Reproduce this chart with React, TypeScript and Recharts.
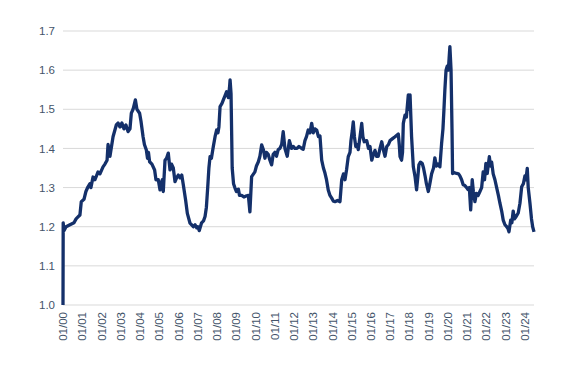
import React from "react";
import { LineChart, Line, XAxis, YAxis, CartesianGrid } from "recharts";

// years since 01/2000 (decimal)
const yearsSince2000: number[] = [
  0, 0.01, 0.05, 0.16, 0.36, 0.57, 0.68, 0.78, 0.88, 0.95, 1.09, 1.19, 1.3, 1.4, 1.45, 1.56, 1.66, 1.82, 1.92,
  2.08, 2.18, 2.29, 2.34, 2.44, 2.6, 2.77, 2.86, 2.96, 3.06, 3.17, 3.27, 3.38, 3.48, 3.55, 3.64, 3.76, 3.84,
  3.98, 4.05, 4.16, 4.23, 4.33, 4.39, 4.44, 4.5, 4.62, 4.76, 4.83, 4.95, 5.04, 5.09, 5.16, 5.21, 5.3, 5.38,
  5.47, 5.56, 5.64, 5.73, 5.82, 5.9, 5.99, 6.08, 6.17, 6.25, 6.37, 6.46, 6.6, 6.77, 6.86, 6.95, 7.01, 7.08,
  7.2, 7.3, 7.38, 7.45, 7.52, 7.58, 7.64, 7.71, 7.81, 7.9, 7.98, 8.05, 8.1, 8.16, 8.26, 8.33, 8.42, 8.5, 8.59,
  8.65, 8.68, 8.73, 8.79, 8.86, 8.94, 9.01, 9.11, 9.17, 9.28, 9.4, 9.54, 9.63, 9.71, 9.8, 9.9, 9.97, 10.05,
  10.15, 10.23, 10.32, 10.42, 10.49, 10.57, 10.66, 10.75, 10.84, 10.92, 11.01, 11.09, 11.18, 11.27, 11.36,
  11.44, 11.53, 11.65, 11.76, 11.88, 11.97, 12.05, 12.16, 12.26, 12.4, 12.48, 12.57, 12.65, 12.74, 12.83,
  12.92, 13.0, 13.09, 13.18, 13.27, 13.35, 13.44, 13.53, 13.61, 13.69, 13.78, 13.87, 13.96, 14.05, 14.13,
  14.26, 14.39, 14.48, 14.57, 14.65, 14.73, 14.82, 14.91, 14.96, 15.03, 15.08, 15.14, 15.21, 15.27, 15.34,
  15.43, 15.52, 15.58, 15.65, 15.78, 15.87, 15.95, 16.04, 16.13, 16.21, 16.29, 16.38, 16.47, 16.56, 16.65,
  16.73, 16.82, 16.91, 16.99, 17.12, 17.25, 17.42, 17.47, 17.51, 17.59, 17.64, 17.68, 17.77, 17.84, 17.94,
  17.98, 18.03, 18.11, 18.2, 18.29, 18.37, 18.44, 18.49, 18.57, 18.66, 18.73, 18.81, 18.88, 18.98, 19.06,
  19.15, 19.25, 19.32, 19.4, 19.48, 19.58, 19.67, 19.74, 19.79, 19.84, 19.9, 19.96, 20.02, 20.06, 20.1,
  20.16, 20.21, 20.24, 20.34, 20.45, 20.55, 20.62, 20.71, 20.79, 20.88, 20.97, 21.04, 21.11, 21.18, 21.26,
  21.32, 21.4, 21.48, 21.57, 21.66, 21.75, 21.83, 21.9, 21.97, 22.04, 22.1, 22.15, 22.21, 22.27, 22.35,
  22.44, 22.53, 22.62, 22.7, 22.79, 22.87, 22.96, 23.05, 23.12, 23.17, 23.26, 23.32, 23.39, 23.45, 23.53,
  23.65, 23.74, 23.83, 23.92, 24.0, 24.05, 24.12, 24.17, 24.26, 24.34, 24.4, 24.47,
];

const values: number[] = [
  1.0, 1.21, 1.19, 1.2, 1.205, 1.21, 1.22, 1.225, 1.23, 1.264, 1.27, 1.29, 1.302, 1.31, 1.3, 1.327, 1.32, 1.34, 1.335,
  1.353, 1.36, 1.37, 1.41, 1.38, 1.43, 1.46, 1.465, 1.455, 1.465, 1.45, 1.46, 1.443, 1.45, 1.49, 1.5, 1.524, 1.5,
  1.49, 1.47, 1.43, 1.41, 1.396, 1.375, 1.39, 1.366, 1.36, 1.345, 1.32, 1.32, 1.294, 1.31, 1.32, 1.29, 1.37, 1.375,
  1.388, 1.345, 1.36, 1.35, 1.315, 1.325, 1.332, 1.325, 1.332, 1.307, 1.268, 1.234, 1.209, 1.2, 1.205, 1.197, 1.2, 1.19,
  1.21, 1.215, 1.226, 1.25, 1.302, 1.35, 1.379, 1.375, 1.405, 1.43, 1.447, 1.44, 1.455, 1.507, 1.515, 1.524, 1.535, 1.545, 1.53,
  1.555, 1.575, 1.54, 1.35, 1.31, 1.298, 1.29, 1.296, 1.28, 1.28, 1.276, 1.279, 1.28, 1.238, 1.328, 1.335, 1.34, 1.355,
  1.366, 1.38, 1.409, 1.395, 1.375, 1.39, 1.385, 1.37, 1.358, 1.385, 1.39, 1.38, 1.397, 1.4, 1.41,
  1.443, 1.4, 1.38, 1.42, 1.4, 1.405, 1.4, 1.4, 1.405, 1.4, 1.398, 1.42, 1.43, 1.447, 1.44,
  1.464, 1.44, 1.45, 1.447, 1.43, 1.432, 1.37, 1.35, 1.337, 1.32, 1.294, 1.28, 1.273, 1.265, 1.264,
  1.267, 1.264, 1.32, 1.335, 1.32, 1.345, 1.379, 1.39, 1.42, 1.445, 1.468, 1.43, 1.405, 1.41, 1.397,
  1.43, 1.464, 1.43, 1.417, 1.42, 1.4, 1.405, 1.37, 1.385, 1.395, 1.38, 1.38, 1.4, 1.417, 1.395,
  1.38, 1.405, 1.41, 1.42, 1.425, 1.43, 1.437, 1.41, 1.379, 1.37, 1.39, 1.464, 1.485, 1.48, 1.537,
  1.5, 1.537, 1.43, 1.353, 1.328, 1.294, 1.33, 1.358, 1.365, 1.362, 1.35, 1.33, 1.31, 1.29, 1.31,
  1.335, 1.35, 1.376, 1.355, 1.36, 1.353, 1.413, 1.45, 1.498, 1.55, 1.6, 1.61, 1.6, 1.63, 1.66,
  1.6, 1.45, 1.336, 1.338, 1.336, 1.335, 1.33, 1.32, 1.307, 1.305, 1.3, 1.295, 1.3, 1.243, 1.32,
  1.29, 1.264, 1.285, 1.28, 1.29, 1.3, 1.34, 1.32, 1.362, 1.336, 1.36, 1.379, 1.355, 1.365, 1.335,
  1.32, 1.3, 1.28, 1.26, 1.24, 1.217, 1.205, 1.2, 1.195, 1.187, 1.217, 1.21, 1.24, 1.22, 1.225,
  1.235, 1.26, 1.302, 1.31, 1.33, 1.32, 1.349, 1.3, 1.26, 1.22, 1.2, 1.187,
];

const xTicks: number[] = Array.from({ length: 25 }, (_, i) => i);
const yTicks: number[] = [1.0, 1.1, 1.2, 1.3, 1.4, 1.5, 1.6, 1.7];

const data = yearsSince2000.map((t, i) => ({ t, v: values[i] }));

const LABEL_COLOR = "#44546A";
const FONT = "'Liberation Sans', Arial, sans-serif";

const XTick = (props: any) => {
  const { x, y, payload } = props;
  const label = `01/${String(payload.value).padStart(2, "0")}`;
  return (
    <g transform={`translate(${x},${y + 7})`}>
      <text
        x={0}
        y={0}
        dy="0.35em"
        textAnchor="end"
        transform="rotate(-90)"
        fill={LABEL_COLOR}
        fontSize={11.5}
        fontFamily={FONT}
      >
        {label}
      </text>
    </g>
  );
};

export default function App() {
  return (
    <div style={{ position: "absolute", left: 0, top: 0, background: "#fff" }}>
      <LineChart
        width={576}
        height={368}
        data={data}
        margin={{ top: 31, right: 42, bottom: 0, left: 0 }}
      >
        <CartesianGrid vertical={false} stroke="#D9D9D9" strokeWidth={1} />
        <XAxis
          dataKey="t"
          type="number"
          domain={[0, 24.47]}
          ticks={xTicks}
          interval={0}
          axisLine={false}
          tickLine={false}
          tickSize={0}
          tickMargin={0}
          height={63}
          tick={<XTick />}
        />
        <YAxis
          type="number"
          domain={[1.0, 1.7]}
          ticks={yTicks}
          interval={0}
          width={63}
          axisLine={false}
          tickLine={false}
          tickSize={0}
          tickMargin={8}
          tickFormatter={(v: number) => v.toFixed(1)}
          tick={{ fill: LABEL_COLOR, fontSize: 11.5, fontFamily: FONT }}
        />
        <Line
          type="linear"
          dataKey="v"
          stroke="#14306A"
          strokeWidth={3.3}
          dot={false}
          isAnimationActive={false}
          strokeLinejoin="round"
        />
      </LineChart>
    </div>
  );
}
